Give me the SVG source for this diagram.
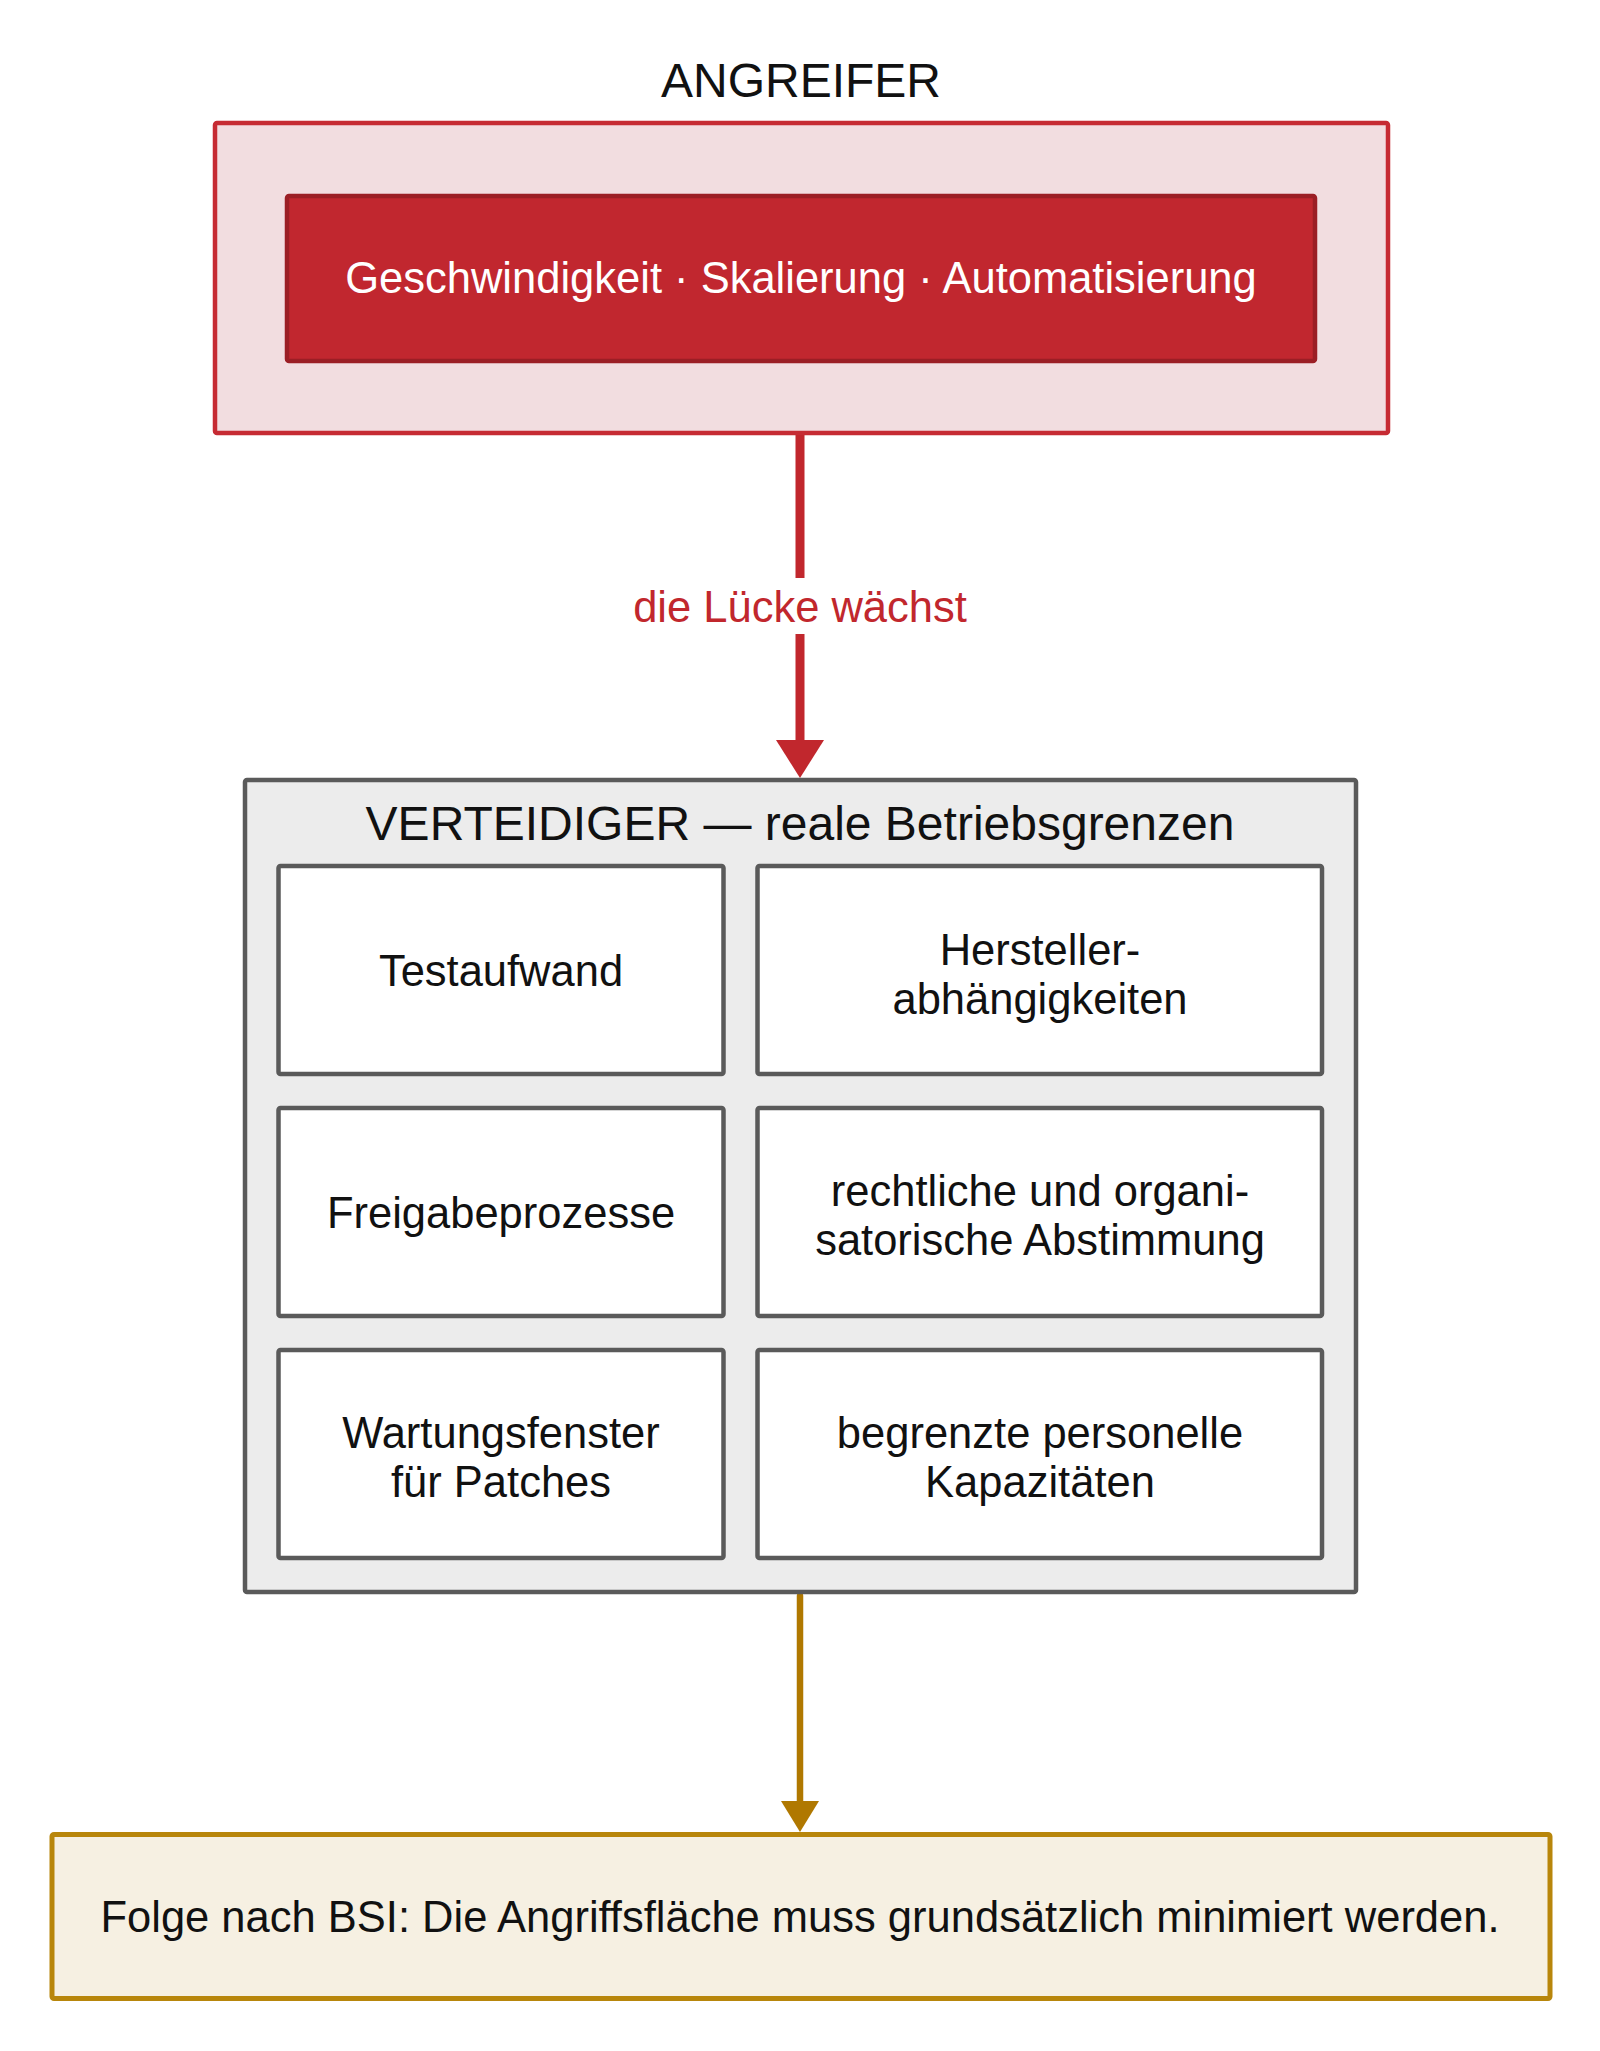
<svg xmlns="http://www.w3.org/2000/svg" width="1600" height="2051" viewBox="0 0 1600 2051">
  <style>
    text { font-family: "Liberation Sans", Arial, Helvetica, sans-serif; text-anchor: middle; fill: #111111; }
    .title { font-size: 48px; }
    .body { font-size: 43.5px; }
    .cell { fill: #ffffff; stroke: #5a5a5a; stroke-width: 4.5; }
  </style>
  <defs>
    <marker id="arrRed" markerUnits="userSpaceOnUse" viewBox="0 0 38 48" refX="0" refY="24" markerWidth="38" markerHeight="48" orient="auto">
      <path d="M0,0 L38,24 L0,48 z" fill="#c1272d"/>
    </marker>
    <marker id="arrGold" markerUnits="userSpaceOnUse" viewBox="0 0 31 38" refX="0" refY="19" markerWidth="31" markerHeight="38" orient="auto">
      <path d="M0,0 L31,19 L0,38 z" fill="#b07800"/>
    </marker>
  </defs>
  <rect width="1600" height="2051" fill="#ffffff"/>

  <g id="connectors">
    <line x1="800" y1="435" x2="800" y2="740" stroke="#c1272d" stroke-width="9" marker-end="url(#arrRed)"/>
    <rect x="624" y="578" width="352" height="56" fill="#ffffff"/>
    <text x="800" y="622" class="body" style="fill:#c1272d">die Lücke wächst</text>
    <line x1="800" y1="1596" x2="800" y2="1801" stroke="#b07800" stroke-width="6.5" stroke-linecap="round" marker-end="url(#arrGold)"/>
  </g>

  <g id="angreifer">
    <text x="801" y="97" class="title">ANGREIFER</text>
    <rect x="215" y="123" width="1173" height="310" rx="2" fill="#f2dde0" stroke="#c62b33" stroke-width="4.5"/>
    <g id="angreifer-eigenschaften">
      <rect x="287" y="196" width="1028" height="165" rx="2" fill="#c1272f" stroke="#9b1e25" stroke-width="4.5"/>
      <text x="801" y="293" class="body" style="fill:#ffffff">Geschwindigkeit · Skalierung · Automatisierung</text>
    </g>
  </g>

  <g id="verteidiger">
    <rect x="245" y="780" width="1111" height="812" rx="2" fill="#ececec" stroke="#5a5a5a" stroke-width="4.5"/>
    <text x="800" y="840" class="title">VERTEIDIGER — reale Betriebsgrenzen</text>
  </g>

  <g id="testaufwand">
    <rect class="cell" x="278.5" y="866" width="445" height="208" rx="2"/>
    <text x="501" y="986" class="body">Testaufwand</text>
  </g>
  <g id="hersteller">
    <rect class="cell" x="757.5" y="866" width="564.5" height="208" rx="2"/>
    <text x="1040" y="965" class="body">Hersteller-</text>
    <text x="1040" y="1014" class="body">abhängigkeiten</text>
  </g>
  <g id="freigabe">
    <rect class="cell" x="278.5" y="1108" width="445" height="208" rx="2"/>
    <text x="501" y="1228" class="body">Freigabeprozesse</text>
  </g>
  <g id="abstimmung">
    <rect class="cell" x="757.5" y="1108" width="564.5" height="208" rx="2"/>
    <text x="1040" y="1206" class="body">rechtliche und organi-</text>
    <text x="1040" y="1255" class="body">satorische Abstimmung</text>
  </g>
  <g id="wartung">
    <rect class="cell" x="278.5" y="1350" width="445" height="208" rx="2"/>
    <text x="501" y="1448" class="body">Wartungsfenster</text>
    <text x="501" y="1497" class="body">für Patches</text>
  </g>
  <g id="personal">
    <rect class="cell" x="757.5" y="1350" width="564.5" height="208" rx="2"/>
    <text x="1040" y="1448" class="body">begrenzte personelle</text>
    <text x="1040" y="1497" class="body">Kapazitäten</text>
  </g>

  <g id="folge">
    <rect x="52" y="1834.5" width="1498" height="164" rx="2" fill="#f6f0e2" stroke="#b8860b" stroke-width="5"/>
    <text x="800" y="1932" class="body">Folge nach BSI: Die Angriffsfläche muss grundsätzlich minimiert werden.</text>
  </g>
</svg>
